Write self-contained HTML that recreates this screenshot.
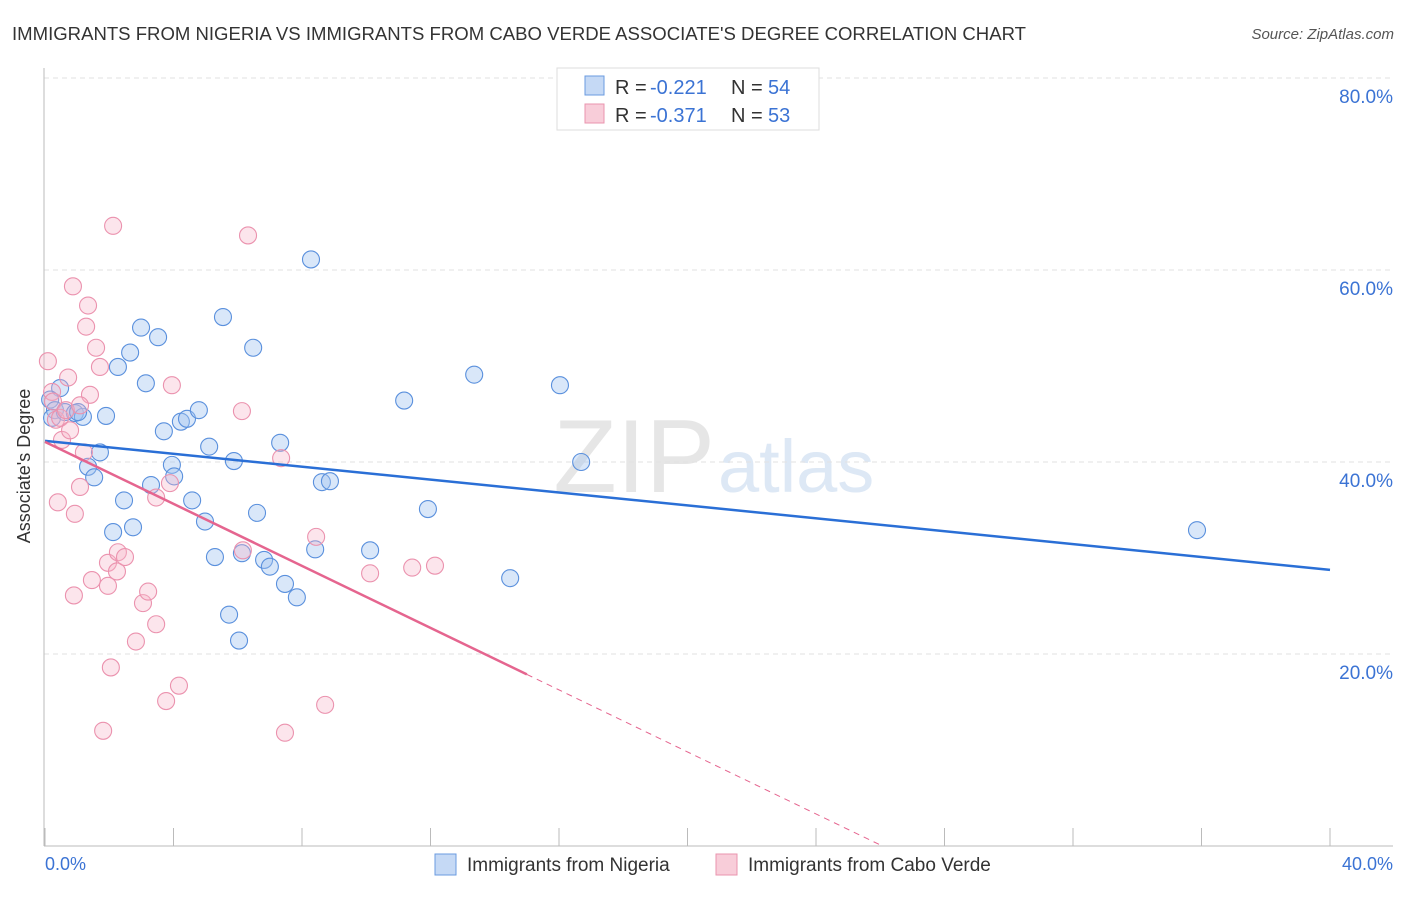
<!DOCTYPE html>
<html><head><meta charset="utf-8"><style>
body{margin:0;background:#fff;font-family:"Liberation Sans",sans-serif;}
svg text{font-family:"Liberation Sans",sans-serif;}
</style></head><body>
<svg id="chart" width="1406" height="892" xmlns="http://www.w3.org/2000/svg">
<text x="12" y="40" font-size="18" fill="#333" textLength="1014" lengthAdjust="spacingAndGlyphs">IMMIGRANTS FROM NIGERIA VS IMMIGRANTS FROM CABO VERDE ASSOCIATE'S DEGREE CORRELATION CHART</text>
<text x="1394" y="39" font-size="15" fill="#555" text-anchor="end" font-style="italic">Source: ZipAtlas.com</text>
<text x="715" y="492" font-size="104" fill="#e6e6e6" text-anchor="end" font-family="Liberation Serif">ZIP</text>
<text x="718" y="492" font-size="74" fill="#dde8f5">atlas</text>
<g id="grid"></g>
<g id="axes"></g>
<g id="pts"></g>
<g id="trend"></g>
<text x="20" y="456" font-size="18" fill="#333" transform="rotate(-90 30 456)" text-anchor="middle">Associate's Degree</text>
<text x="45" y="870" font-size="18" fill="#3b73d4">0.0%</text>
<text x="1393" y="870" font-size="18" fill="#3b73d4" text-anchor="end">40.0%</text>
<g>
<rect x="557" y="68" width="262" height="62" fill="#fff" stroke="#ddd"/>
<rect x="585" y="76" width="19" height="19" fill="#c5d9f5" stroke="#6a9be0"/>
<rect x="585" y="104" width="19" height="19" fill="#f8cdd9" stroke="#ea94ae"/>
<text x="615" y="94" font-size="20" fill="#333">R = </text>
<text x="650" y="94" font-size="20" fill="#3b73d4">-0.221</text>
<text x="731" y="94" font-size="20" fill="#333">N = </text>
<text x="768" y="94" font-size="20" fill="#3b73d4">54</text>
<text x="615" y="122" font-size="20" fill="#333">R = </text>
<text x="650" y="122" font-size="20" fill="#3b73d4">-0.371</text>
<text x="731" y="122" font-size="20" fill="#333">N = </text>
<text x="768" y="122" font-size="20" fill="#3b73d4">53</text>
</g>
<g>
<rect x="435" y="854" width="21" height="21" fill="#c5d9f5" stroke="#6a9be0"/>
<text x="467" y="871" font-size="19" fill="#333">Immigrants from Nigeria</text>
<rect x="716" y="854" width="21" height="21" fill="#f8cdd9" stroke="#ea94ae"/>
<text x="748" y="871" font-size="19" fill="#333">Immigrants from Cabo Verde</text>
</g>
</svg>
<script>
const yTicks=[20,40,60,80];
const yTickLabels=["20.0%","40.0%","60.0%","80.0%"];
const xTicks=[0,4,8,12,16,20,24,28,32,36,40];
const nigeriaX=[0.47,0.16,0.31,0.22,0.62,0.93,1.18,1.03,1.90,1.71,1.34,1.53,2.12,2.46,2.74,2.27,2.65,2.99,3.14,3.52,3.70,3.30,3.95,4.02,4.58,4.23,4.42,4.79,4.98,5.11,5.29,5.54,5.88,5.73,6.04,6.13,6.48,6.60,6.82,7.00,7.32,7.47,7.84,8.28,8.41,8.62,8.87,10.12,11.18,11.92,13.36,14.48,16.03,16.69,35.86];
const nigeriaY=[47.7,46.5,45.4,44.6,45.2,45.1,44.7,45.2,44.8,41.0,39.5,38.4,32.7,36.0,33.2,49.9,51.4,54.0,48.2,53.0,43.2,37.6,39.7,38.5,36.0,44.2,44.5,45.4,33.8,41.6,30.1,55.1,40.1,24.1,21.4,30.5,51.9,34.7,29.8,29.1,42.0,27.3,25.9,61.1,30.9,37.9,38.0,30.8,46.4,35.1,49.1,27.9,48.0,40.0,32.9];
const caboX=[0.09,0.22,0.25,0.34,0.47,0.65,0.53,0.72,0.87,1.28,1.34,1.59,1.71,1.40,1.09,0.78,0.40,0.93,1.09,1.21,0.90,1.46,1.96,1.96,2.24,2.27,2.49,2.12,2.83,3.05,3.21,3.46,3.46,2.05,1.81,3.77,4.17,3.95,3.89,6.13,6.32,6.16,7.35,8.44,8.72,7.47,10.12,11.43,12.14];
const caboY=[50.5,47.3,46.3,44.4,44.6,45.4,42.3,48.8,58.3,54.1,56.3,51.9,49.9,47.0,45.9,43.3,35.8,34.6,37.4,41.0,26.1,27.7,29.5,27.1,28.6,30.6,30.1,64.6,21.3,25.3,26.5,23.1,36.3,18.6,12.0,15.1,16.7,48.0,37.8,45.3,63.6,30.8,40.4,32.2,14.7,11.8,28.4,29.0,29.2];
const nigeriaTrend=[42.2,-0.336];
const caboTrend=[42.1,-1.615];
const caboSolidEnd=15.0;

const NS="http://www.w3.org/2000/svg";
const sx=v=>45+v/40*1285;
const sy=v=>846-v*9.6;
function mk(tag,attrs,parent){const e=document.createElementNS(NS,tag);for(const k in attrs)e.setAttribute(k,attrs[k]);parent.appendChild(e);return e;}
const grid=document.getElementById('grid'),axes=document.getElementById('axes'),pts=document.getElementById('pts'),trend=document.getElementById('trend');
yTicks.forEach((t,i)=>{
 const l=mk('line',{x1:44,x2:1393,y1:sy(t),y2:sy(t),stroke:'#e2e2e2','stroke-dasharray':'5,4'},grid);
 
 
 const tx=mk('text',{x:1393,y:sy(t)+25,'font-size':19,fill:'#3b73d4','text-anchor':'end'},grid);
 tx.textContent=yTickLabels[i];
 
 
});
const ya=mk('line',{x1:44,x2:44,y1:68,y2:846,stroke:'#bbb'},axes);


const xa=mk('line',{x1:44,x2:1393,y1:846,y2:846,stroke:'#bbb'},axes);


xTicks.forEach(t=>{
 const l=mk('line',{x1:sx(t),x2:sx(t),y1:828,y2:846,stroke:'#bbb'},axes);
 
 
});
nigeriaX.forEach((x,i)=>{
 const c=mk('circle',{cx:sx(x),cy:sy(nigeriaY[i]),r:8.5,fill:'rgba(160,195,240,0.4)',stroke:'#5a90dd','stroke-width':1.1},pts);
 
 
});
caboX.forEach((x,i)=>{
 const c=mk('circle',{cx:sx(x),cy:sy(caboY[i]),r:8.5,fill:'rgba(245,180,200,0.35)',stroke:'#eb92ae','stroke-width':1.1},pts);
 
 
});
const f=(tr,x)=>tr[0]+tr[1]*x;
const bl=mk('line',{x1:sx(0),y1:sy(f(nigeriaTrend,0)),x2:sx(40),y2:sy(f(nigeriaTrend,40)),stroke:'#2a6fd6','stroke-width':2.5},trend);


const pl=mk('line',{x1:sx(0),y1:sy(f(caboTrend,0)),x2:sx(caboSolidEnd),y2:sy(f(caboTrend,caboSolidEnd)),stroke:'#e5658f','stroke-width':2.5},trend);


const xEnd=-caboTrend[0]/caboTrend[1];
const pd=mk('line',{x1:sx(caboSolidEnd),y1:sy(f(caboTrend,caboSolidEnd)),x2:sx(xEnd),y2:sy(0),stroke:'#e5658f','stroke-width':1,'stroke-dasharray':'6,5'},trend);


</script>
</body></html>
